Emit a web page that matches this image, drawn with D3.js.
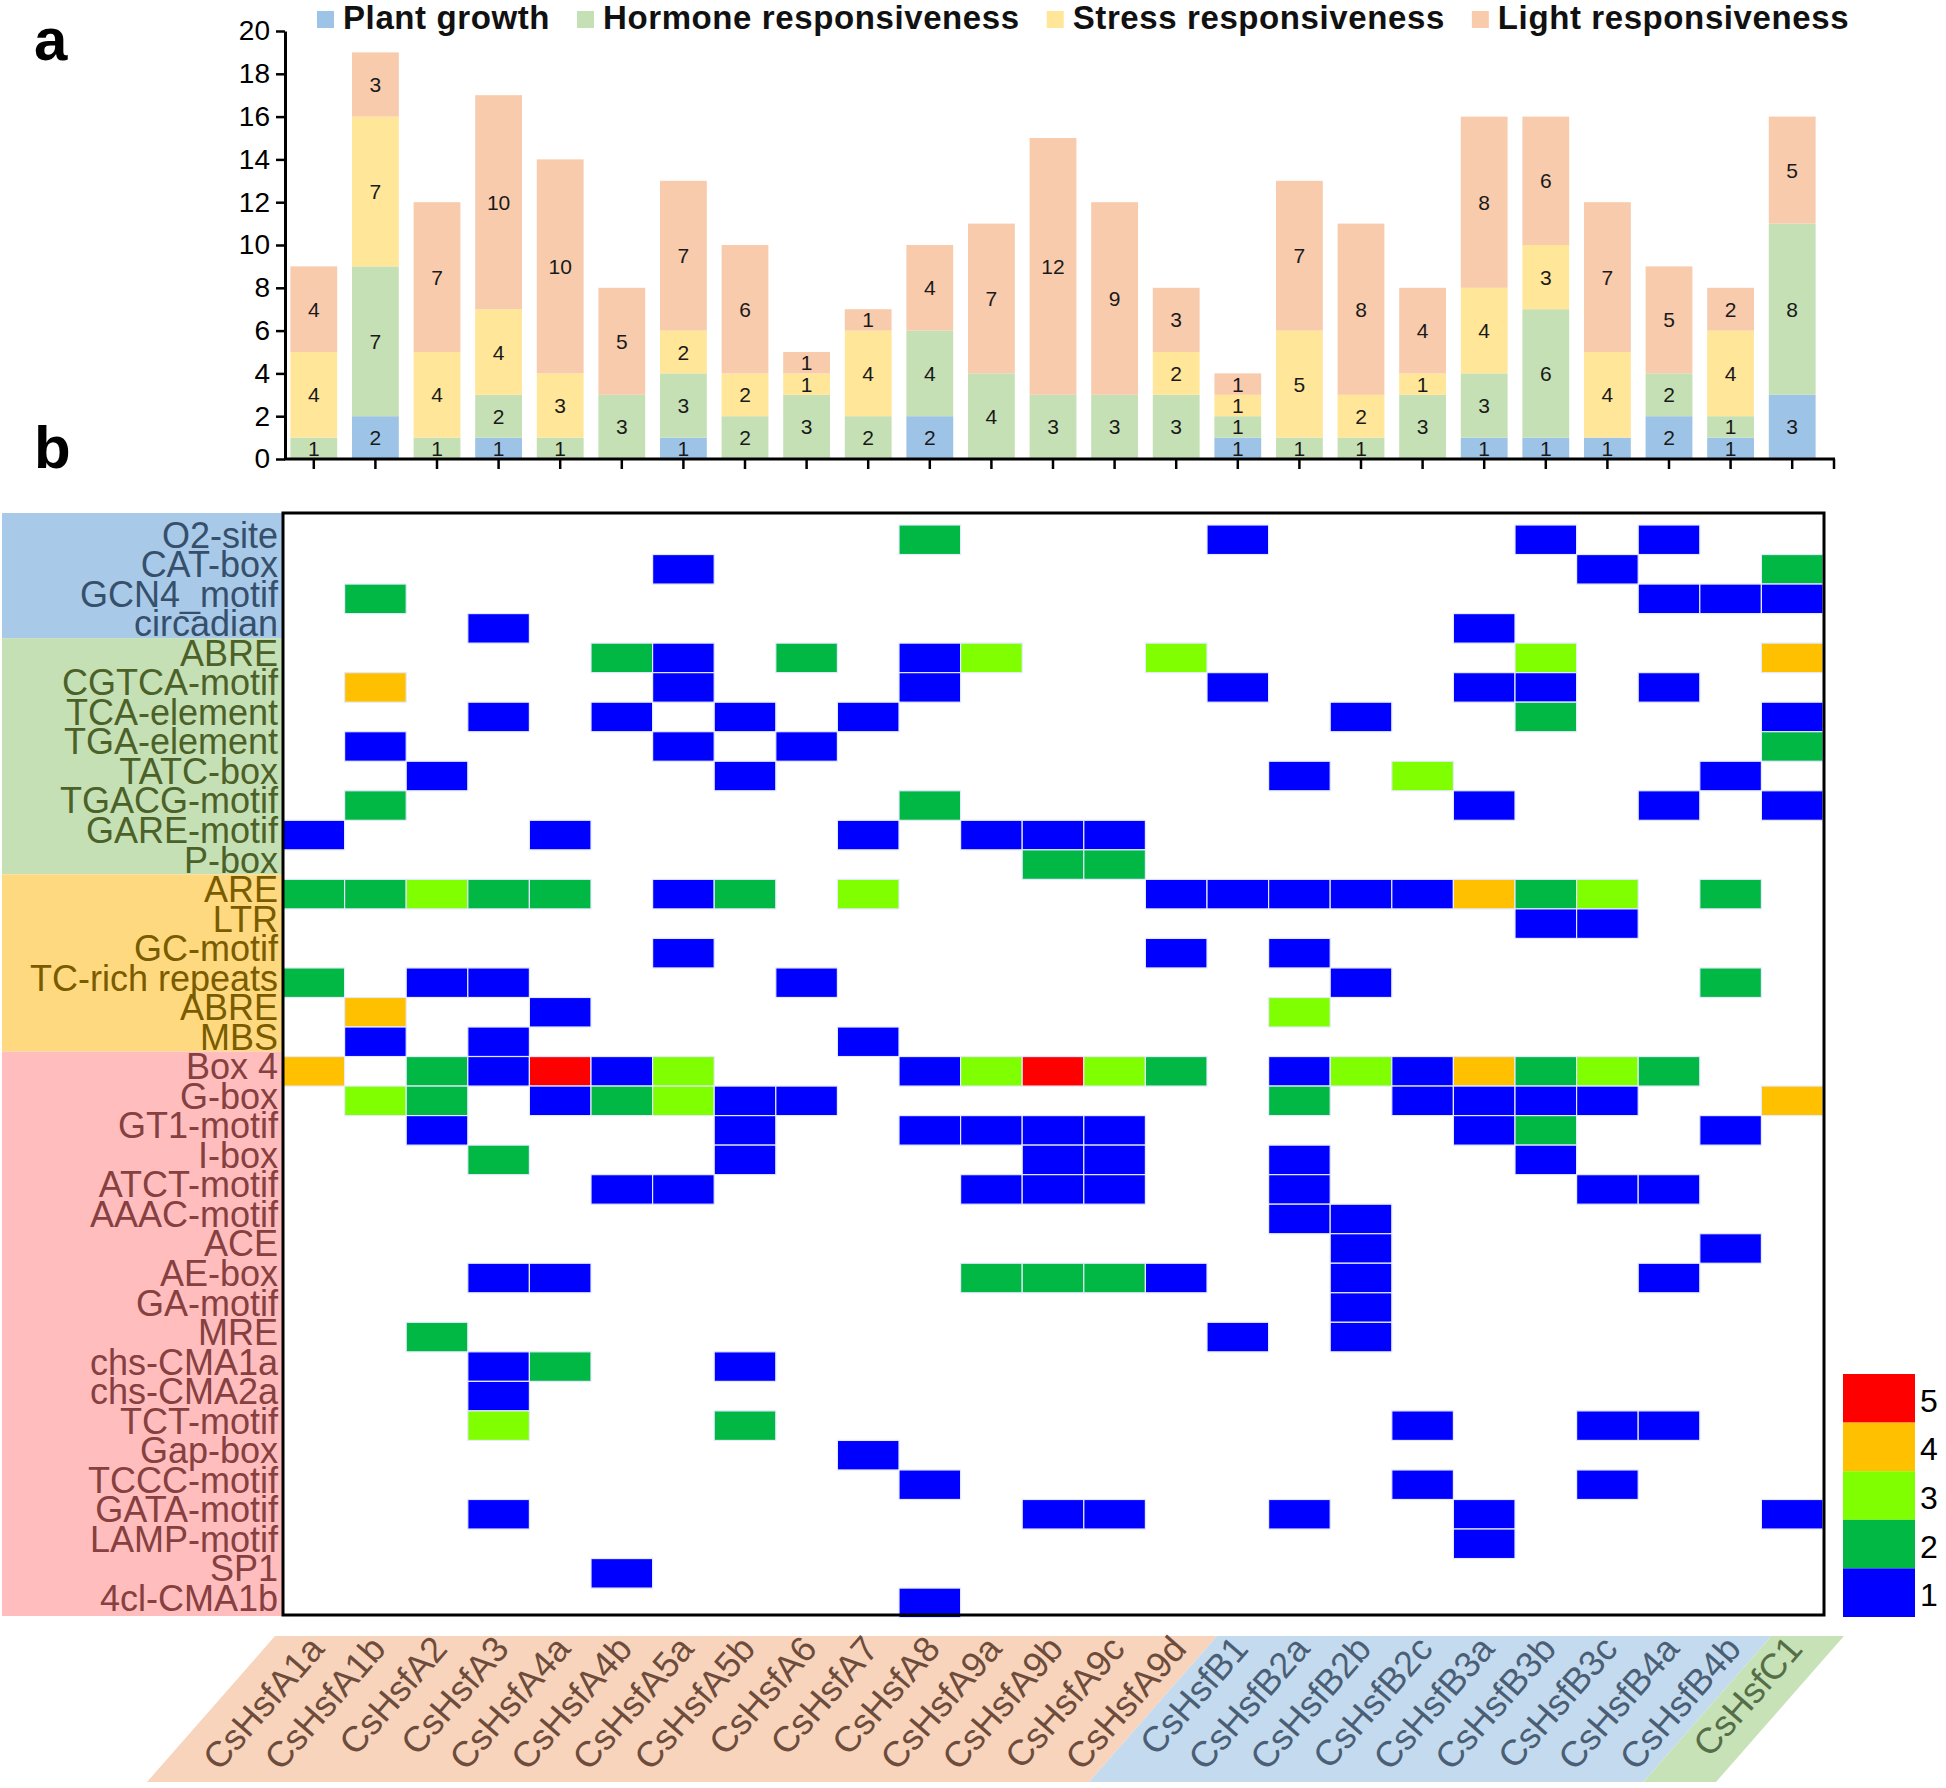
<!DOCTYPE html>
<html><head><meta charset="utf-8">
<script src="https://cdn.jsdelivr.net/npm/d3@7"></script>
<style>
body{margin:0;background:#fff}
svg{display:block;font-family:"Liberation Sans",Arial,Helvetica,sans-serif}
</style>
</head><body>
<svg id="chart" width="1946" height="1788"></svg>
<script>
// ---------- DATA ----------
const genes = ["CsHsfA1a","CsHsfA1b","CsHsfA2","CsHsfA3","CsHsfA4a","CsHsfA4b","CsHsfA5a","CsHsfA5b","CsHsfA6","CsHsfA7","CsHsfA8","CsHsfA9a","CsHsfA9b","CsHsfA9c","CsHsfA9d","CsHsfB1","CsHsfB2a","CsHsfB2b","CsHsfB2c","CsHsfB3a","CsHsfB3b","CsHsfB3c","CsHsfB4a","CsHsfB4b","CsHsfC1"];
const geneClass = ["A","A","A","A","A","A","A","A","A","A","A","A","A","A","A","B","B","B","B","B","B","B","B","B","C"];
const seriesNames = ["Plant growth","Hormone responsiveness","Stress responsiveness","Light responsiveness"];
const plantGrowth = [0,2,0,1,0,0,1,0,0,0,2,0,0,0,0,1,0,0,0,1,1,1,2,1,3];
const hormoneResp = [1,7,1,2,1,3,3,2,3,2,4,4,3,3,3,1,1,1,3,3,6,0,2,1,8];
const stressResp  = [4,7,4,4,3,0,2,2,1,4,0,0,0,0,2,1,5,2,1,4,3,4,0,4,0];
const lightResp   = [4,3,7,10,10,5,7,6,1,1,4,7,12,9,3,1,7,8,4,8,6,7,5,2,5];
const yTicks = [0,2,4,6,8,10,12,14,16,18,20];

const elements = ["O2-site","CAT-box","GCN4_motif","circadian",
  "ABRE","CGTCA-motif","TCA-element","TGA-element","TATC-box","TGACG-motif","GARE-motif","P-box",
  "ARE","LTR","GC-motif","TC-rich repeats","ABRE","MBS",
  "Box 4","G-box","GT1-motif","I-box","ATCT-motif","AAAC-motif","ACE","AE-box","GA-motif","MRE",
  "chs-CMA1a","chs-CMA2a","TCT-motif","Gap-box","TCCC-motif","GATA-motif","LAMP-motif","SP1","4cl-CMA1b"];
const elementGroup = ["plant","plant","plant","plant",
  "hormone","hormone","hormone","hormone","hormone","hormone","hormone","hormone",
  "stress","stress","stress","stress","stress","stress",
  "light","light","light","light","light","light","light","light","light","light",
  "light","light","light","light","light","light","light","light","light"];
// counts per element (row) x gene (column)
const heatValues = [
 [0,0,0,0,0,0,0,0,0,0,2,0,0,0,0,1,0,0,0,0,1,0,1,0,0],
 [0,0,0,0,0,0,1,0,0,0,0,0,0,0,0,0,0,0,0,0,0,1,0,0,2],
 [0,2,0,0,0,0,0,0,0,0,0,0,0,0,0,0,0,0,0,0,0,0,1,1,1],
 [0,0,0,1,0,0,0,0,0,0,0,0,0,0,0,0,0,0,0,1,0,0,0,0,0],
 [0,0,0,0,0,2,1,0,2,0,1,3,0,0,3,0,0,0,0,0,3,0,0,0,4],
 [0,4,0,0,0,0,1,0,0,0,1,0,0,0,0,1,0,0,0,1,1,0,1,0,0],
 [0,0,0,1,0,1,0,1,0,1,0,0,0,0,0,0,0,1,0,0,2,0,0,0,1],
 [0,1,0,0,0,0,1,0,1,0,0,0,0,0,0,0,0,0,0,0,0,0,0,0,2],
 [0,0,1,0,0,0,0,1,0,0,0,0,0,0,0,0,1,0,3,0,0,0,0,1,0],
 [0,2,0,0,0,0,0,0,0,0,2,0,0,0,0,0,0,0,0,1,0,0,1,0,1],
 [1,0,0,0,1,0,0,0,0,1,0,1,1,1,0,0,0,0,0,0,0,0,0,0,0],
 [0,0,0,0,0,0,0,0,0,0,0,0,2,2,0,0,0,0,0,0,0,0,0,0,0],
 [2,2,3,2,2,0,1,2,0,3,0,0,0,0,1,1,1,1,1,4,2,3,0,2,0],
 [0,0,0,0,0,0,0,0,0,0,0,0,0,0,0,0,0,0,0,0,1,1,0,0,0],
 [0,0,0,0,0,0,1,0,0,0,0,0,0,0,1,0,1,0,0,0,0,0,0,0,0],
 [2,0,1,1,0,0,0,0,1,0,0,0,0,0,0,0,0,1,0,0,0,0,0,2,0],
 [0,4,0,0,1,0,0,0,0,0,0,0,0,0,0,0,3,0,0,0,0,0,0,0,0],
 [0,1,0,1,0,0,0,0,0,1,0,0,0,0,0,0,0,0,0,0,0,0,0,0,0],
 [4,0,2,1,5,1,3,0,0,0,1,3,5,3,2,0,1,3,1,4,2,3,2,0,0],
 [0,3,2,0,1,2,3,1,1,0,0,0,0,0,0,0,2,0,1,1,1,1,0,0,4],
 [0,0,1,0,0,0,0,1,0,0,1,1,1,1,0,0,0,0,0,1,2,0,0,1,0],
 [0,0,0,2,0,0,0,1,0,0,0,0,1,1,0,0,1,0,0,0,1,0,0,0,0],
 [0,0,0,0,0,1,1,0,0,0,0,1,1,1,0,0,1,0,0,0,0,1,1,0,0],
 [0,0,0,0,0,0,0,0,0,0,0,0,0,0,0,0,1,1,0,0,0,0,0,0,0],
 [0,0,0,0,0,0,0,0,0,0,0,0,0,0,0,0,0,1,0,0,0,0,0,1,0],
 [0,0,0,1,1,0,0,0,0,0,0,2,2,2,1,0,0,1,0,0,0,0,1,0,0],
 [0,0,0,0,0,0,0,0,0,0,0,0,0,0,0,0,0,1,0,0,0,0,0,0,0],
 [0,0,2,0,0,0,0,0,0,0,0,0,0,0,0,1,0,1,0,0,0,0,0,0,0],
 [0,0,0,1,2,0,0,1,0,0,0,0,0,0,0,0,0,0,0,0,0,0,0,0,0],
 [0,0,0,1,0,0,0,0,0,0,0,0,0,0,0,0,0,0,0,0,0,0,0,0,0],
 [0,0,0,3,0,0,0,2,0,0,0,0,0,0,0,0,0,0,1,0,0,1,1,0,0],
 [0,0,0,0,0,0,0,0,0,1,0,0,0,0,0,0,0,0,0,0,0,0,0,0,0],
 [0,0,0,0,0,0,0,0,0,0,1,0,0,0,0,0,0,0,1,0,0,1,0,0,0],
 [0,0,0,1,0,0,0,0,0,0,0,0,1,1,0,0,1,0,0,1,0,0,0,0,1],
 [0,0,0,0,0,0,0,0,0,0,0,0,0,0,0,0,0,0,0,1,0,0,0,0,0],
 [0,0,0,0,0,1,0,0,0,0,0,0,0,0,0,0,0,0,0,0,0,0,0,0,0],
 [0,0,0,0,0,0,0,0,0,0,1,0,0,0,0,0,0,0,0,0,0,0,0,0,0]
];
const legendLevels = [5,4,3,2,1];

// ---------- STYLES ----------
const seriesColors = ["#9dc3e6","#c5e0b4","#ffe699","#f8cbad"];
const levelColor = d3.scaleOrdinal([1,2,3,4,5],["#0000ff","#00b843","#80ff00","#ffc000","#ff0000"]);
const groupBg = {plant:"#a9c9e8",hormone:"#c6e0b5",stress:"#ffd97f",light:"#ffbdbd"};
const groupText = {plant:"#36506c",hormone:"#4c6128",stress:"#7a5c00",light:"#86403f"};
const classBg = {A:"#f8d4bc",B:"#c4daee",C:"#c8e2b8"};
const classText = {A:"#6e4c3c",B:"#4a5f75",C:"#566e48"};

const svg = d3.select("#chart");

// panel letters
svg.append("text").attr("x",34).attr("y",60).attr("font-size",60).attr("font-weight","bold").text("a");
svg.append("text").attr("x",34).attr("y",468).attr("font-size",60).attr("font-weight","bold").text("b");

// ---------- PANEL A: stacked bars ----------
const x = d3.scaleBand().domain(genes).range([283,1823]);
const xb = d3.scaleBand().domain(genes).range([283,1823]).paddingInner(0.24).paddingOuter(0.12);
const y = d3.scaleLinear().domain([0,20]).range([459,31]);

const keys = ["plant","hormone","stress","light"];
const table = genes.map((g,i)=>({gene:g, plant:plantGrowth[i], hormone:hormoneResp[i], stress:stressResp[i], light:lightResp[i]}));
const stacked = d3.stack().keys(keys)(table);

const barG = svg.append("g");
stacked.forEach((layer,li)=>{
  barG.append("g").selectAll("rect").data(layer).join("rect")
    .attr("x",d=>xb(d.data.gene)).attr("width",xb.bandwidth())
    .attr("y",d=>y(d[1])).attr("height",d=>y(d[0])-y(d[1]))
    .attr("fill",seriesColors[li]);
});
stacked.forEach((layer,li)=>{
  barG.append("g").selectAll("text").data(layer.filter(d=>d[1]-d[0]>0)).join("text")
    .attr("x",d=>xb(d.data.gene)+xb.bandwidth()/2)
    .attr("y",d=>(y(d[0])+y(d[1]))/2).attr("dy","0.36em")
    .attr("text-anchor","middle").attr("font-size",21).attr("fill","#1a1a1a")
    .text(d=>d[1]-d[0]);
});

// y axis
const yAxis = svg.append("g").attr("transform","translate(285,0)")
  .call(d3.axisLeft(y).tickValues(yTicks).tickSize(9).tickSizeOuter(0).tickPadding(6));
yAxis.select(".domain").attr("stroke","#000").attr("stroke-width",3);
yAxis.selectAll(".tick line").attr("stroke-width",2.5);
yAxis.selectAll(".tick text").attr("font-size",28).attr("font-family","Liberation Sans, Arial, sans-serif").attr("fill","#000");

// x axis
const xAxis = svg.append("g").attr("transform","translate(0,459)")
  .call(d3.axisBottom(x).tickSize(10).tickSizeOuter(0).tickFormat(""));
xAxis.select(".domain").remove();
xAxis.selectAll(".tick line").attr("stroke-width",2.5);
svg.append("line").attr("x1",284).attr("x2",1835).attr("y1",459).attr("y2",459).attr("stroke","#000").attr("stroke-width",3);
svg.append("line").attr("x1",1834).attr("x2",1834).attr("y1",459).attr("y2",469).attr("stroke","#000").attr("stroke-width",2.5);

// legend
const lg = svg.append("g");
let lx = 317;
seriesNames.forEach((name,i)=>{
  lg.append("rect").attr("x",lx).attr("y",11).attr("width",17).attr("height",17).attr("fill",seriesColors[i]);
  const t = lg.append("text").attr("x",lx+26).attr("y",29).attr("font-size",33).attr("font-weight","bold")
    .attr("letter-spacing",0.6).attr("fill","#111").text(name);
  lx += 26 + t.node().getComputedTextLength() + 27;
});

// ---------- PANEL B: heatmap ----------
const rowPitch = 29.53;
const yr = d3.scaleBand().domain(d3.range(elements.length)).range([525,525+elements.length*rowPitch]);

// group label backgrounds
const groupsOrder = ["plant","hormone","stress","light"];
const labelBg = svg.append("g");
groupsOrder.forEach((g,gi)=>{
  const idx = elementGroup.map((e,i)=>e===g?i:-1).filter(i=>i>=0);
  const top = gi===0 ? 513 : yr(idx[0]) - 5;
  const bottom = gi===groupsOrder.length-1 ? 1616 : yr(idx[idx.length-1]) + yr.bandwidth() - 5;
  labelBg.append("rect").attr("x",2).attr("y",top).attr("width",280).attr("height",bottom-top).attr("fill",groupBg[g]);
});
svg.append("g").selectAll("text").data(elements).join("text")
  .attr("x",278).attr("y",(d,i)=>yr(i)+yr.bandwidth()/2-5).attr("dy","0.36em")
  .attr("text-anchor","end").attr("font-size",36)
  .attr("fill",(d,i)=>groupText[elementGroup[i]]).text(d=>d);

// cells
const cells = [];
heatValues.forEach((row,ri)=>row.forEach((v,ci)=>{ if(v>0) cells.push({r:ri,c:ci,v:v}); }));
svg.append("g").selectAll("rect").data(cells).join("rect")
  .attr("x",d=>x(genes[d.c])).attr("y",d=>yr(d.r))
  .attr("width",x.bandwidth()).attr("height",yr.bandwidth())
  .attr("fill",d=>levelColor(d.v)).attr("stroke","#e4e9ff").attr("stroke-width",1.2);

// frame
svg.append("rect").attr("x",283).attr("y",513).attr("width",1541).attr("height",1102)
  .attr("fill","none").attr("stroke","#000").attr("stroke-width",3);

// colour legend
const yl = d3.scaleBand().domain(legendLevels).range([1374,1617]);
svg.append("g").selectAll("rect").data(legendLevels).join("rect")
  .attr("x",1843).attr("width",72).attr("y",d=>yl(d)).attr("height",yl.bandwidth())
  .attr("fill",d=>levelColor(d));
svg.append("g").selectAll("text").data(legendLevels).join("text")
  .attr("x",1920).attr("y",d=>yl(d)+yl.bandwidth()/2+2).attr("dy","0.36em")
  .attr("font-size",32).attr("fill","#000").text(d=>d);

// bottom gene-class bands
const bandTop = 1636, bandBottom = 1782, slant = 128;
const classes = ["A","B","C"];
classes.forEach((c,ci)=>{
  const members = genes.filter((g,i)=>geneClass[i]===c);
  const left = ci===0 ? x(members[0]) - 8 : x(members[0]) + 10;
  const lastIdx = genes.indexOf(members[members.length-1]);
  const right = ci===classes.length-1 ? x(members[members.length-1]) + x.bandwidth() + 21 : x(genes[lastIdx+1]) + 10;
  svg.append("polygon")
    .attr("points",[[left,bandTop],[right,bandTop],[right-slant,bandBottom],[left-slant,bandBottom]].map(p=>p.join(",")).join(" "))
    .attr("fill",classBg[c]);
});
svg.append("g").selectAll("text").data(genes).join("text")
  .attr("transform",d=>`translate(${x(d)+x.bandwidth()/2+12},1650) rotate(-49)`)
  .attr("text-anchor","end").attr("font-size",36)
  .attr("fill",(d,i)=>classText[geneClass[i]]).text(d=>d);
</script>
</body></html>
